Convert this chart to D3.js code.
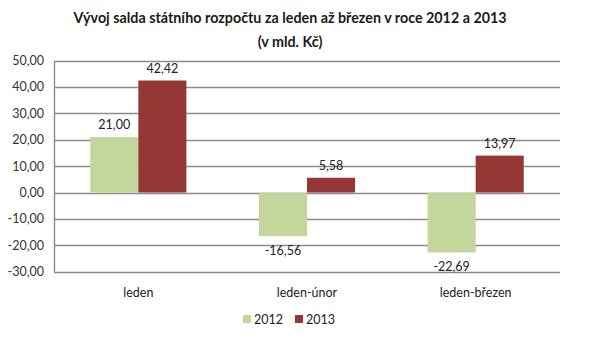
<!DOCTYPE html>
<html><head><meta charset="utf-8">
<script src="https://cdn.jsdelivr.net/npm/d3@7"></script>
<style>body{margin:0;background:#fff}svg{display:block}text{font-family:Lato,"Open Sans",sans-serif}</style>
</head><body><svg id="c" width="604" height="357"></svg>
<script>
const categories = ["leden", "leden-únor", "leden-březen"];
const series = ["2012", "2013"];
const values2012 = [21.00, -16.56, -22.69];
const values2013 = [42.42, 5.58, 13.97];
const yTicks = [-30, -20, -10, 0, 10, 20, 30, 40, 50];
const colors = ["#c3d69b", "#953735"];

const svg = d3.select("#c");
const m = {l: 54, r: 44, t: 60.5, b: 85.3};
const W = 604, H = 357;
const x0 = d3.scaleBand().domain(categories).range([m.l, W - m.r]).paddingInner(0.43).paddingOuter(0.215);
const x1 = d3.scaleBand().domain(series).range([0, x0.bandwidth()]);
const y = d3.scaleLinear().domain([-30, 50]).range([H - m.b, m.t]);
const fmt = v => d3.format(".2f")(v).replace(".", ",").replace("\u2212", "-");

// title
svg.append("text").attr("x", 290).attr("y", 23).attr("text-anchor", "middle")
  .attr("font-size", 14.3).attr("font-weight", "bold").attr("fill", "#1a1a1a")
  .text("Vývoj salda státního rozpočtu za leden až březen v roce 2012 a 2013");
svg.append("text").attr("x", 290).attr("y", 47).attr("text-anchor", "middle")
  .attr("font-size", 14.3).attr("font-weight", "bold").attr("fill", "#1a1a1a")
  .text("(v mld. Kč)");

// grid
svg.append("g").selectAll("line").data(yTicks).join("line")
  .attr("x1", m.l).attr("x2", W - m.r)
  .attr("y1", d => Math.round(y(d)) + 0.5).attr("y2", d => Math.round(y(d)) + 0.5)
  .attr("stroke", "#8c8c8c").attr("stroke-width", 1.4);

// y axis
const ya = svg.append("g").attr("transform", `translate(${m.l},0)`)
  .call(d3.axisLeft(y).tickValues(yTicks).tickFormat(fmt).tickSize(0).tickPadding(10));
ya.select(".domain").attr("stroke", "#8c8c8c").attr("stroke-width", 1.4);
ya.selectAll("text").attr("font-size", 12.5).attr("fill", "#333").attr("font-family", "Lato, sans-serif");

// bars
const data = categories.map((c, i) => ({c, vals: [values2012[i], values2013[i]]}));
const g = svg.append("g").selectAll("g").data(data).join("g")
  .attr("transform", d => `translate(${x0(d.c)},0)`);
g.selectAll("rect").data(d => d.vals.map((v, j) => ({v, s: series[j], j}))).join("rect")
  .attr("x", d => x1(d.s)).attr("width", x1.bandwidth())
  .attr("y", d => y(Math.max(0, d.v))).attr("height", d => Math.abs(y(d.v) - y(0)))
  .attr("fill", d => colors[d.j]);
g.selectAll("text").data(d => d.vals.map((v, j) => ({v, s: series[j], j}))).join("text")
  .attr("x", d => x1(d.s) + x1.bandwidth() / 2)
  .attr("y", d => d.v >= 0 ? y(d.v) - 8 : y(d.v) + 19)
  .attr("text-anchor", "middle").attr("font-size", 12.5).attr("fill", "#222")
  .text(d => fmt(d.v));

// category labels
svg.append("g").selectAll("text").data(categories).join("text")
  .attr("x", d => x0(d) + x0.bandwidth() / 2).attr("y", 297)
  .attr("text-anchor", "middle").attr("font-size", 12.5).attr("fill", "#222").text(d => d);

// legend
const lg = svg.append("g").selectAll("g").data(series).join("g")
  .attr("transform", (d, i) => `translate(${243 + i * 52},315)`);
lg.append("rect").attr("width", 8).attr("height", 8).attr("fill", (d, i) => colors[i]);
lg.append("text").attr("x", 11).attr("y", 8.5).attr("font-size", 12.5).attr("fill", "#222").text(d => d);
</script></body></html>
